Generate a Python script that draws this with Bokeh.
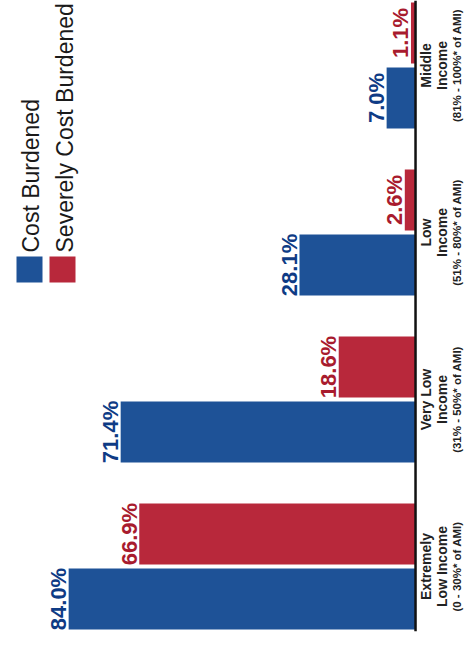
import math
from bokeh.plotting import figure
from bokeh.models import Range1d, Span, LinearScale
from bokeh.core.properties import value
from bokeh.embed import file_html
from bokeh.resources import INLINE

# ---- data ----
categories = ["Extremely Low Income", "Very Low Income", "Low Income", "Middle Income"]
label_line1 = ["Extremely", "Very Low", "Low", "Middle"]
label_line2 = ["Low Income", "Income", "Income", "Income"]
label_line3 = ["(0 - 30%* of AMI)", "(31% - 50%* of AMI)", "(51% - 80%* of AMI)", "(81% - 100%* of AMI)"]
series = ["Cost Burdened", "Severely Cost Burdened"]
cost_burdened = [84.0, 71.4, 28.1, 7.0]
severely_cost_burdened = [66.9, 18.6, 2.6, 1.1]

# ---- style / layout ----
FONT = value("Liberation Sans")
BAR_COLORS = {"Cost Burdened": "#1e5297", "Severely Cost Burdened": "#b8283b"}
TEXT_COLORS = {"Cost Burdened": "#0e3b85", "Severely Cost Burdened": "#a81b2e"}
GROUP_GAP = 0.57
GROUP_STEP = len(series) + GROUP_GAP

ypos, vals, bar_cols, txt_cols, labels = [], [], [], [], []
group_centers = []
for i, c in enumerate(categories):
    group_centers.append(i * GROUP_STEP + len(series) / 2)
    for j, (s, arr) in enumerate(zip(series, [cost_burdened, severely_cost_burdened])):
        ypos.append(i * GROUP_STEP + j + 0.5)
        vals.append(arr[i])
        bar_cols.append(BAR_COLORS[s])
        txt_cols.append(TEXT_COLORS[s])
        labels.append(f"{arr[i]:.1f}%")

y_end = len(categories) * GROUP_STEP - GROUP_GAP

p = figure(width=465, height=645, output_backend="svg", toolbar_location=None,
           x_range=Range1d(100.5, -12.1), y_range=Range1d(0, y_end),
           x_axis_location=None, y_axis_location=None,
           min_border_left=0, min_border_right=0, min_border_top=0, min_border_bottom=14)
p.outline_line_color = None
p.grid.grid_line_color = None
p.background_fill_color = "white"
p.border_fill_color = "white"

p.extra_x_ranges = {"px": Range1d(0, 465)}
p.extra_x_scales = {"px": LinearScale()}
p.extra_y_ranges = {"px": Range1d(631, 0)}
p.extra_y_scales = {"px": LinearScale()}

p.hbar(y=ypos, left=0, right=vals, height=0.94, fill_color=bar_cols, line_color=None)

p.text(x=vals, y=ypos, text=labels, angle=math.pi / 2, x_offset=-10,
       text_align="center", text_baseline="middle",
       text_font=FONT, text_font_style="bold",
       text_font_size="22px", text_color=txt_cols)

# baseline
p.add_layout(Span(location=0, dimension="height", line_color="#111111", line_width=2.5))

# category labels
zeros = [0] * len(categories)
for lines, off, size in [(label_line1, 10, "14px"), (label_line2, 26, "14px"), (label_line3, 41, "11.5px")]:
    p.text(x=zeros, y=group_centers, text=lines, angle=math.pi / 2, x_offset=off,
           text_align="center", text_baseline="middle",
           text_font=FONT, text_font_style="bold",
           text_font_size=size, text_color="#222222")

# legend (rotated)
p.rect(x=[29, 62], y=[269, 269], width=26, height=26,
       fill_color=[BAR_COLORS[s] for s in series], line_color=None,
       x_range_name="px", y_range_name="px")
p.text(x=[30, 64], y=[252, 252], text=series, angle=math.pi / 2,
       text_align="left", text_baseline="middle",
       text_font=FONT, text_font_size="23px",
       text_color="#1a1a1a", x_range_name="px", y_range_name="px")

open("out.html", "w").write(file_html(p, INLINE))
